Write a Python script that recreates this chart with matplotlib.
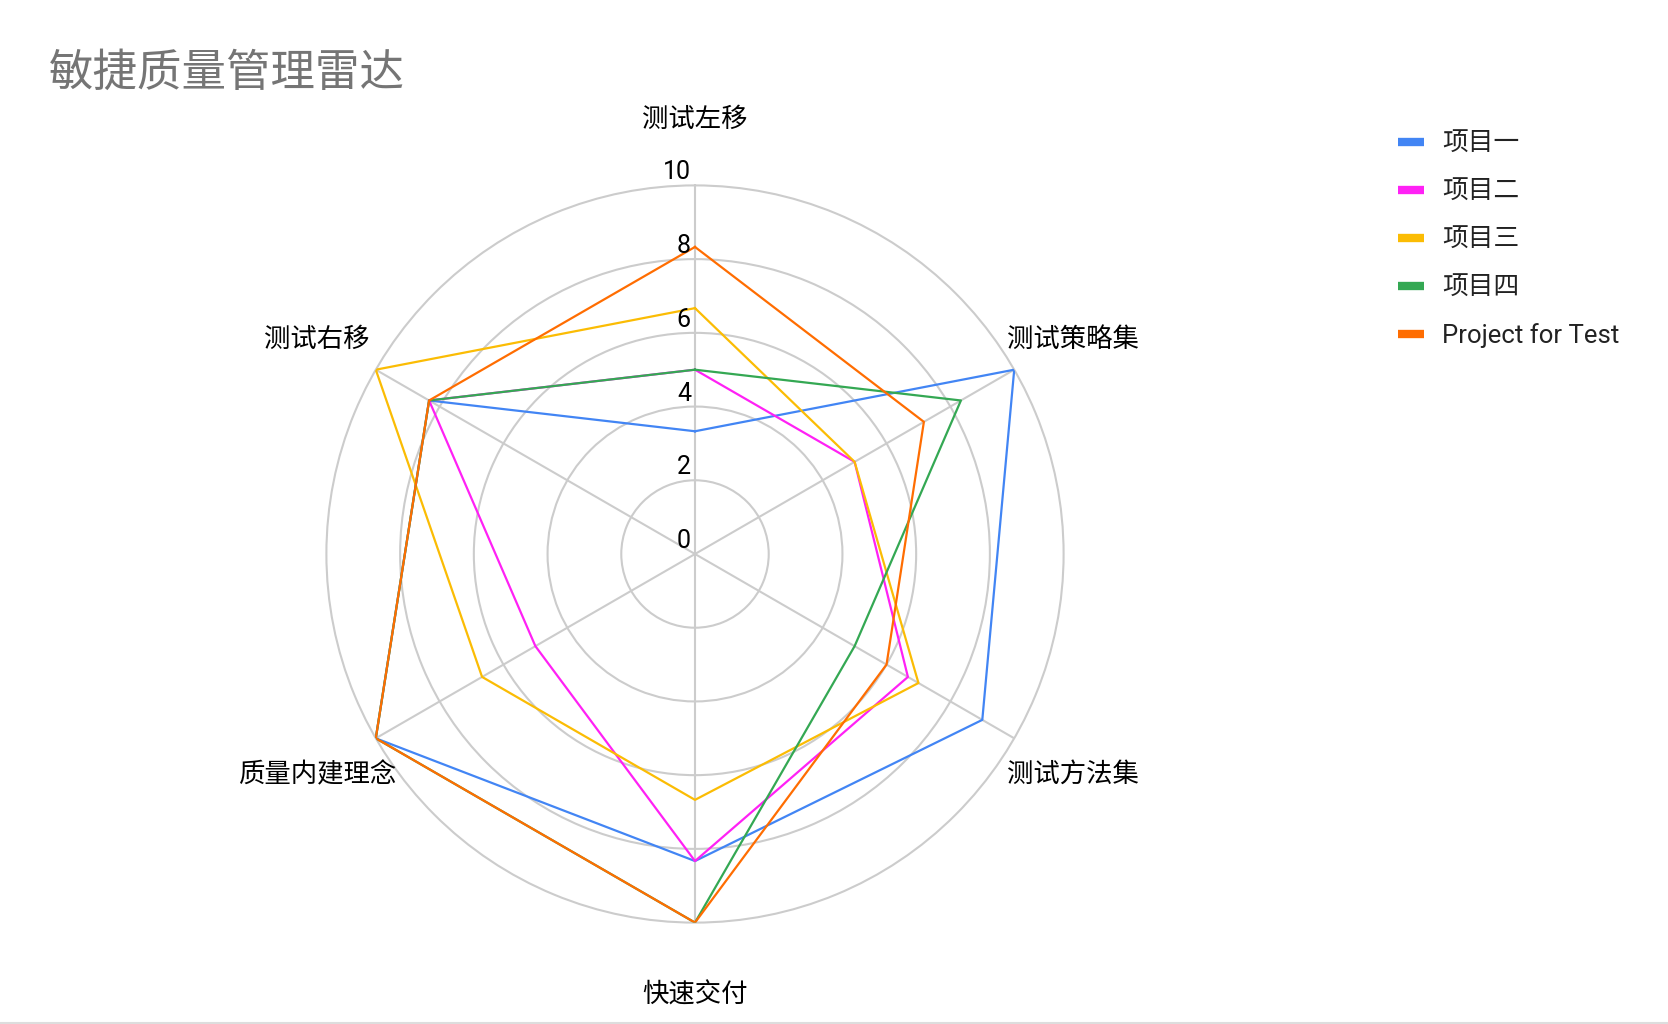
import numpy as np
import matplotlib
matplotlib.use("Agg")
import matplotlib.pyplot as plt
from matplotlib.lines import Line2D

plt.rcParams['font.family'] = ['Roboto', 'Noto Sans CJK SC', 'DejaVu Sans']

title = "敏捷质量管理雷达"
categories = ["测试左移", "测试策略集", "测试方法集", "快速交付", "质量内建理念", "测试右移"]
series_names = ["项目一", "项目二", "项目三", "项目四", "Project for Test"]
p1 = [3.33, 10, 9, 8.33, 10, 8.33]
p2 = [5, 5, 6.67, 8.33, 5, 8.33]
p3 = [6.67, 5, 7, 6.67, 6.67, 10]
p4 = [5, 8.33, 5, 10, 10, 8.33]
p5 = [8.33, 7.17, 6, 10, 10, 8.33]
series_values = [p1, p2, p3, p4, p5]
colors = ["#4285F4", "#FF21F5", "#FBBC04", "#34A853", "#FF6D01"]
r_ticks = [0, 2, 4, 6, 8, 10]

W, H = 1668, 1024
fig = plt.figure(figsize=(W / 100, H / 100), dpi=100)
cx, cy, R = 695, 554, 368.6
ax = fig.add_axes([(cx - R) / W, (H - cy - R) / H, 2 * R / W, 2 * R / H], projection='polar')
ax.set_theta_zero_location('N')
ax.set_theta_direction(-1)
ax.set_ylim(0, 10)

n = len(categories)
angles = np.linspace(0, 2 * np.pi, n, endpoint=False)

ax.set_xticks(angles)
ax.set_xticklabels([])
ax.set_yticks(r_ticks[1:-1])
ax.set_yticklabels([])
ax.grid(True, color="#cccccc", linewidth=1.5)
ax.spines['polar'].set_color("#cccccc")
ax.spines['polar'].set_linewidth(1.5)
ax.tick_params(length=0)

for vals, name, c in zip(series_values, series_names, colors):
    a = np.concatenate([angles, angles[:1]])
    v = list(vals) + [vals[0]]
    ax.plot(a, v, color=c, linewidth=1.6, label=name, zorder=3)

for r in r_ticks:
    ax.annotate(str(r), xy=(0, r), xytext=(-4, 13), textcoords='offset pixels',
                ha='right', va='center', fontsize=18, color='black', zorder=5)

offsets = [(0, 66, 'center'), (-7, 30, 'left'), (-7, -36, 'left'),
           (0, -72, 'center'), (20, -36, 'right'), (-6, 30, 'right')]
for ang, lab, (ox, oy, ha) in zip(angles, categories, offsets):
    ax.annotate(lab, xy=(ang, 10), xytext=(ox, oy), textcoords='offset pixels',
                ha=ha, va='center', fontsize=19, color='black', annotation_clip=False)

fig.text(49 / W, 1 - 74 / H, title, fontsize=32, color="#757575", ha='left', va='center')

# legend drawn manually for exact spacing
leg_x0, leg_x1, leg_tx = 1398, 1424, 1442
leg_y0, leg_dy = 141.5, 48
for i, (name, c) in enumerate(zip(series_names, colors)):
    yy = 1 - (leg_y0 + i * leg_dy) / H
    fig.add_artist(Line2D([leg_x0 / W, leg_x1 / W], [yy, yy], color=c, linewidth=6,
                          solid_capstyle='butt', transform=fig.transFigure))
    fig.text(leg_tx / W, yy - 2 / H, name, fontsize=18.5, color="#222222", ha='left', va='center')

fig.add_artist(Line2D([0, 1], [1.5 / H, 1.5 / H], color="#dddddd", linewidth=1.5, transform=fig.transFigure))

fig.savefig("out.png", dpi=100)
